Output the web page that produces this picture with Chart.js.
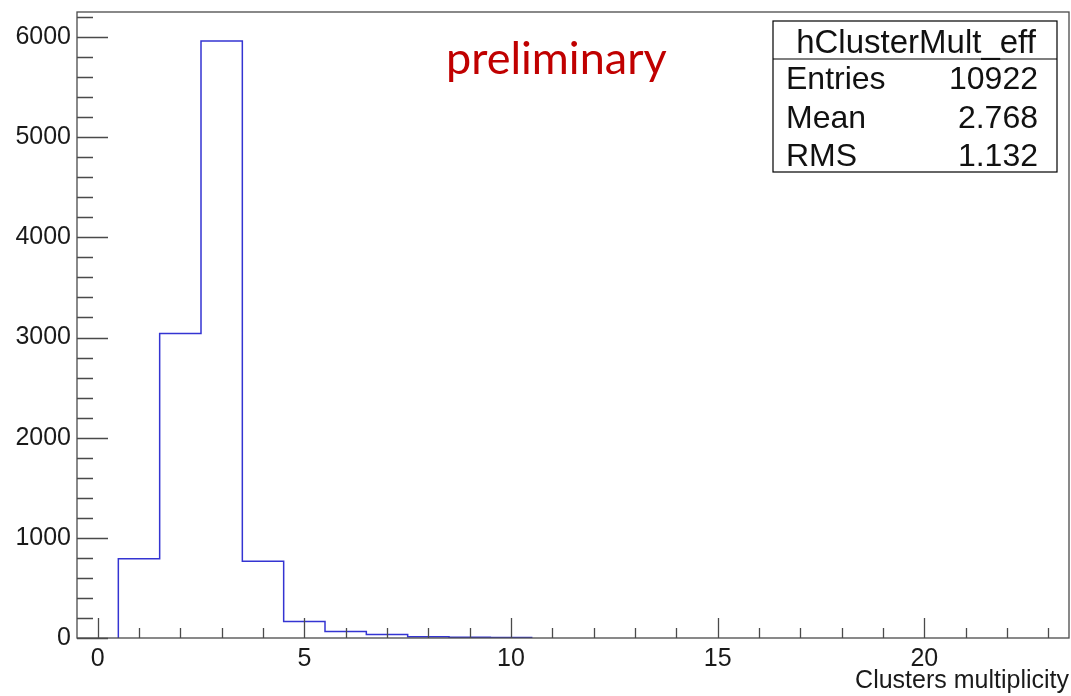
<!DOCTYPE html>
<html>
<head>
<meta charset="utf-8">
<title>hClusterMult_eff</title>
<script src="https://cdn.jsdelivr.net/npm/chart.js@4.4.1/dist/chart.umd.min.js"></script>
<style>
  html, body { margin: 0; padding: 0; background: #fff; }
  #chart { display: block; }
</style>
</head>
<body>
<canvas id="chart" width="1071" height="696"></canvas>
<script>
// histogram bins (centre of each bin, width 1)
const binCenters = [0, 1, 2, 3, 4, 5, 6, 7, 8, 9, 10, 11, 12, 13, 14, 15, 16, 17, 18, 19, 20, 21, 22, 23];
const binCounts = [0, 790, 3040, 5960, 766, 165, 65, 35, 12, 8, 5, 0, 0, 0, 0, 0, 0, 0, 0, 0, 0, 0, 0, 0];

const xTickValues = [0, 5, 10, 15, 20];
const yTickValues = [0, 1000, 2000, 3000, 4000, 5000, 6000];

const histName = "hClusterMult_eff";
const statLabels = ["Entries", "Mean", "RMS"];
const statValues = ["10922", "2.768", "1.132"];

const axisColor = "#4a4a4a";
const lineColor = "#3434d2";
const rootFont = "'Liberation Sans', Arial, sans-serif";

// step outline of the histogram (left edge of each bin + closing point),
// leading/trailing empty bins left out
function buildOutline() {
  const first = binCounts.findIndex((v) => v > 0);
  let last = binCounts.length - 1;
  while (last > 0 && binCounts[last] === 0) last--;
  const pts = [{ x: binCenters[first] - 0.5, y: 0 }];
  for (let i = first; i <= last; i++) {
    pts.push({ x: binCenters[i] - 0.5, y: binCounts[i] });
  }
  pts.push({ x: binCenters[last] + 0.5, y: 0 });
  return pts;
}

// ROOT style frame, inward ticks, stats box and the "preliminary" tag
const rootDecor = {
  id: "rootDecor",
  afterDraw(chart) {
    const { ctx, chartArea: a, scales } = chart;
    const xs = scales.x;
    const ys = scales.y;
    ctx.save();
    ctx.strokeStyle = axisColor;
    ctx.lineWidth = 1.3;
    ctx.strokeRect(a.left, a.top, a.right - a.left, a.bottom - a.top);

    ctx.beginPath();
    for (let v = 0; v <= ys.max; v += 200) {
      const y = Math.round(ys.getPixelForValue(v)) + 0.5;
      const len = v % 1000 === 0 ? 31 : 16;
      ctx.moveTo(a.left, y);
      ctx.lineTo(a.left + len, y);
    }
    for (let v = 0; v <= xs.max; v += 1) {
      const x = Math.round(xs.getPixelForValue(v)) + 0.5;
      const len = v % 5 === 0 ? 20 : 10;
      ctx.moveTo(x, a.bottom);
      ctx.lineTo(x, a.bottom - len);
    }
    ctx.stroke();

    // stats box
    const bx = 773, by = 21, bw = 284, bh = 151;
    ctx.fillStyle = "#fff";
    ctx.fillRect(bx, by, bw, bh);
    ctx.strokeStyle = "#000";
    ctx.lineWidth = 1.2;
    ctx.strokeRect(bx, by, bw, bh);
    ctx.beginPath();
    ctx.moveTo(bx, 59);
    ctx.lineTo(bx + bw, 59);
    ctx.stroke();

    ctx.fillStyle = "#111";
    ctx.textBaseline = "alphabetic";
    ctx.textAlign = "center";
    ctx.font = "33px " + rootFont;
    ctx.fillText(histName, bx + bw / 2 + 1, 53);
    ctx.font = "32px " + rootFont;
    statLabels.forEach((label, i) => {
      const base = 89 + i * 38.5;
      ctx.textAlign = "left";
      ctx.fillText(label, 786, base);
      ctx.textAlign = "right";
      ctx.fillText(statValues[i], 1038, base);
    });

    ctx.fillStyle = "#c00000";
    ctx.font = "45px Lato, 'Open Sans', sans-serif";
    ctx.textAlign = "left";
    ctx.fillText("preliminary", 446, 74);
    ctx.restore();
  },
};

new Chart(document.getElementById("chart"), {
  type: "line",
  data: {
    datasets: [
      {
        data: buildOutline(),
        stepped: "before",
        borderColor: lineColor,
        borderWidth: 1.5,
        pointRadius: 0,
        fill: false,
      },
    ],
  },
  options: {
    responsive: false,
    animation: false,
    layout: { padding: { top: 12, right: 2, left: 0, bottom: 0 } },
    plugins: { legend: { display: false }, tooltip: { enabled: false } },
    scales: {
      x: {
        type: "linear",
        min: -0.5,
        max: 23.5,
        afterBuildTicks: (scale) => {
          scale.ticks = xTickValues.map((v) => ({ value: v }));
        },
        afterFit: (scale) => {
          scale.height = 58;
          scale.paddingLeft = 0;
          scale.paddingRight = 0;
        },
        grid: { display: false, drawTicks: false },
        border: { display: false },
        ticks: {
          padding: 6,
          maxRotation: 0,
          color: "#1a1a1a",
          font: { family: rootFont, size: 25 },
          callback: (v) => String(v),
        },
        title: {
          display: true,
          text: "Clusters multiplicity",
          align: "end",
          color: "#1a1a1a",
          padding: { top: 0, bottom: 0 },
          font: { family: rootFont, size: 25 },
        },
      },
      y: {
        min: 0,
        max: 6250,
        afterBuildTicks: (scale) => {
          scale.ticks = yTickValues.map((v) => ({ value: v }));
        },
        afterFit: (scale) => {
          scale.width = 77;
          scale.paddingTop = 0;
          scale.paddingBottom = 0;
        },
        grid: { display: false, drawTicks: false },
        border: { display: false },
        ticks: {
          padding: 6,
          color: "#1a1a1a",
          font: { family: rootFont, size: 25 },
          callback: (v) => String(v),
        },
      },
    },
  },
  plugins: [rootDecor],
});
</script>
</body>
</html>
